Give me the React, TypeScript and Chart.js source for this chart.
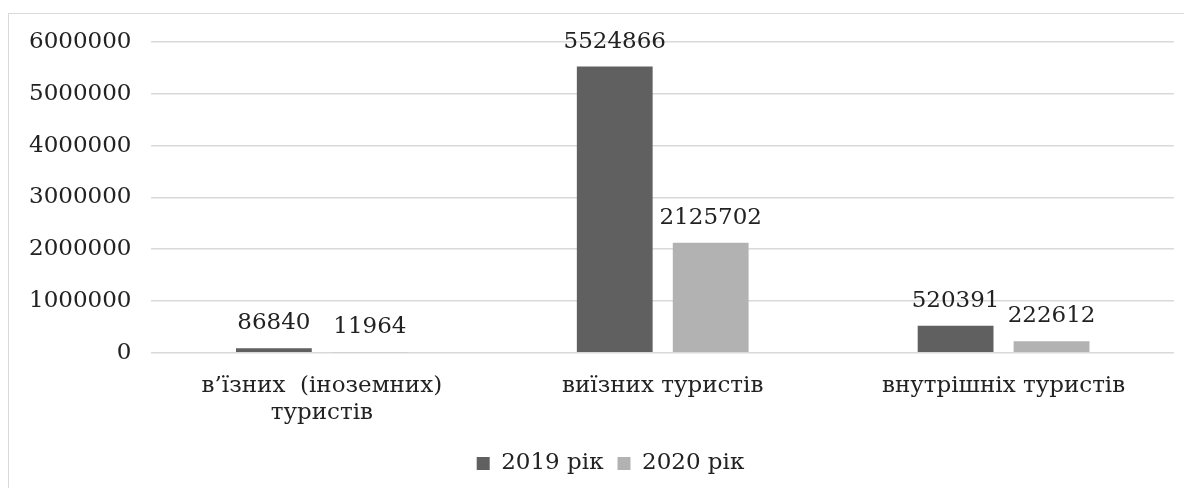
import React, { useEffect, useRef } from "react";
import { Chart, registerables } from "chart.js";

Chart.register(...registerables);

const categories: (string | string[])[] = [
  ["в’їзних  (іноземних)", "туристів"],
  "виїзних туристів",
  "внутрішніх туристів",
];
const series2019 = [86840, 5524866, 520391];
const series2020 = [11964, 2125702, 222612];
const seriesNames = ["2019 рік", "2020 рік"];
const yTicks = [0, 1000000, 2000000, 3000000, 4000000, 5000000, 6000000];

const FONT = "'DejaVu Serif', serif";
const TEXT = "#222222";

const valueLabels = {
  id: "valueLabels",
  afterLayout(chart: any) {
    if (chart.legend) {
      chart.legend.left += 19;
      chart.legend.right += 19;
    }
  },
  afterDatasetsDraw(chart: any) {
    const ctx = chart.ctx;
    ctx.save();
    ctx.font = `23px ${FONT}`;
    ctx.fillStyle = TEXT;
    ctx.textAlign = "center";
    ctx.textBaseline = "middle";
    chart.data.datasets.forEach((ds: any, di: number) => {
      const meta = chart.getDatasetMeta(di);
      meta.data.forEach((bar: any, i: number) => {
        const v = ds.data[i];
        ctx.fillText(String(v), bar.x, bar.y - 25);
      });
    });
    ctx.restore();
  },
};

export default function App() {
  const ref = useRef<HTMLCanvasElement | null>(null);
  useEffect(() => {
    document.documentElement.style.overflow = "hidden";
    document.body.style.overflow = "hidden";
    if (!ref.current) return;
    const chart = new Chart(ref.current, {
      type: "bar",
      data: {
        labels: categories,
        datasets: [
          {
            label: seriesNames[0],
            data: series2019,
            backgroundColor: "#606060",
            categoryPercentage: 0.563,
            barPercentage: 0.79,
          },
          {
            label: seriesNames[1],
            data: series2020,
            backgroundColor: "#b2b2b2",
            categoryPercentage: 0.563,
            barPercentage: 0.79,
          },
        ],
      },
      options: {
        animation: false,
        responsive: true,
        maintainAspectRatio: false,
        layout: { padding: { left: 0, right: 18, top: 28, bottom: 3 } },
        scales: {
          x: {
            grid: { display: false },
            border: { display: false },
            ticks: {
              font: { family: FONT, size: 23 },
              color: TEXT,
              padding: 11,
              maxRotation: 0,
              autoSkip: false,
            },
          },
          y: {
            min: 0,
            max: 6000000,
            afterBuildTicks: (axis: any) => {
              axis.ticks = yTicks.map((v) => ({ value: v }));
            },
            afterFit: (scale: any) => {
              scale.paddingTop = 0;
              scale.paddingBottom = 0;
            },
            grid: { color: "#d9d9d9", lineWidth: 1.5, drawTicks: false },
            border: { display: false },
            ticks: {
              font: { family: FONT, size: 23 },
              color: TEXT,
              padding: 20,
              callback: (v: any) => String(v),
            },
          },
        },
        plugins: {
          legend: {
            position: "bottom",
            labels: {
              font: { family: FONT, size: 23 },
              color: TEXT,
              boxWidth: 13,
              boxHeight: 13,
              padding: 14,
            },
          },
          tooltip: { enabled: false },
        },
      },
      plugins: [valueLabels],
    });
    return () => chart.destroy();
  }, []);
  return (
    <div
      style={{
        marginTop: 5,
        width: 1184,
        height: 475,
        borderTop: "1px solid #d9d9d9",
        borderLeft: "1px solid #d9d9d9",
        boxSizing: "border-box",
        position: "relative",
      }}
    >
      <div style={{ position: "absolute", left: 0, top: 0, width: 1183, height: 474 }}>
        <canvas ref={ref} />
      </div>
    </div>
  );
}
